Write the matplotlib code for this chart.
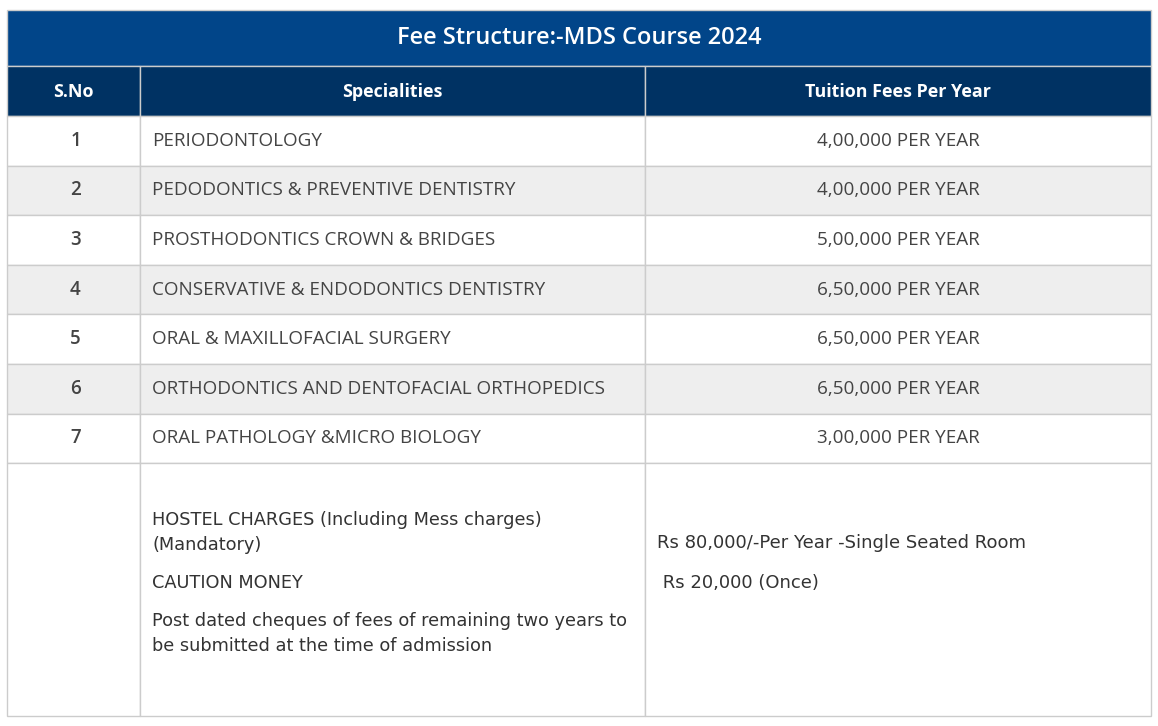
import matplotlib.pyplot as plt
from matplotlib.patches import Rectangle

title = "Fee Structure:-MDS Course 2024"
headers = ["S.No", "Specialities", "Tuition Fees Per Year"]
sno = ["1", "2", "3", "4", "5", "6", "7"]
specialities = [
    "PERIODONTOLOGY",
    "PEDODONTICS & PREVENTIVE DENTISTRY",
    "PROSTHODONTICS CROWN & BRIDGES",
    "CONSERVATIVE & ENDODONTICS DENTISTRY",
    "ORAL & MAXILLOFACIAL SURGERY",
    "ORTHODONTICS AND DENTOFACIAL ORTHOPEDICS",
    "ORAL PATHOLOGY &MICRO BIOLOGY",
]
fees = [
    "4,00,000 PER YEAR",
    "4,00,000 PER YEAR",
    "5,00,000 PER YEAR",
    "6,50,000 PER YEAR",
    "6,50,000 PER YEAR",
    "6,50,000 PER YEAR",
    "3,00,000 PER YEAR",
]
extra_left = [
    "HOSTEL CHARGES (Including Mess charges)\n(Mandatory)",
    "CAUTION MONEY",
    "Post dated cheques of fees of remaining two years to\nbe submitted at the time of admission",
]
extra_right = [
    "Rs 80,000/-Per Year -Single Seated Room",
    " Rs 20,000 (Once)",
]

W, H = 1158, 726
fig = plt.figure(figsize=(W / 100, H / 100), dpi=100)
ax = fig.add_axes([0, 0, 1, 1])
ax.set_xlim(0, W)
ax.set_ylim(H, 0)
ax.axis("off")

x0, x1, x2, x3 = 7, 140, 645, 1151
y_title, y_head, y_rows = 10, 66, 116
row_h = 49.6
grid = "#cccccc"
txt = "#444444"

# title bar
ax.add_patch(Rectangle((x0, y_title), x3 - x0, y_head - y_title, fc="#014589", ec=grid, lw=1))
ax.text((x0 + x3) / 2, (y_title + y_head) / 2, title, ha="center", va="center",
        color="white", fontsize=17, fontfamily="Open Sans", fontweight="semibold")

# header
cols = [(x0, x1), (x1, x2), (x2, x3)]
for (a, b), h in zip(cols, headers):
    ax.add_patch(Rectangle((a, y_head), b - a, y_rows - y_head, fc="#003263", ec=grid, lw=1))
    ax.text((a + b) / 2, (y_head + y_rows) / 2 + 1, h, ha="center", va="center",
            color="white", fontsize=12.9, fontfamily="Open Sans", fontweight="bold")

# body rows
for i, (n, s, f) in enumerate(zip(sno, specialities, fees)):
    top = y_rows + i * row_h
    bg = "#eeeeee" if i % 2 else "white"
    for a, b in cols:
        ax.add_patch(Rectangle((a, top), b - a, row_h, fc=bg, ec=grid, lw=1))
    yc = top + row_h / 2
    ax.text((x0 + x1) / 2 + 2, yc, n, ha="center", va="center", color=txt,
            fontsize=13.5, fontfamily="Open Sans", fontweight="semibold")
    ax.text(x1 + 12, yc, s, ha="left", va="center", color=txt,
            fontsize=13.6, fontfamily="Open Sans")
    ax.text((x2 + x3) / 2, yc, f, ha="center", va="center", color=txt,
            fontsize=13.6, fontfamily="Open Sans")

# bottom notes cell
top = y_rows + len(sno) * row_h
for a, b in cols:
    ax.add_patch(Rectangle((a, top), b - a, 716 - top, fc="white", ec=grid, lw=1))

line_gap = 25
left_y = [520, 583, 621]
for yy, t in zip(left_y, extra_left):
    for k, line in enumerate(t.split("\n")):
        ax.text(x1 + 12, yy + k * line_gap, line, ha="left", va="center",
                color="#333333", fontsize=12.8, fontfamily="DejaVu Sans")

right_y = [543, 583]
for yy, t in zip(right_y, extra_right):
    ax.text(x2 + 12, yy, t, ha="left", va="center", color="#333333",
            fontsize=13, fontfamily="DejaVu Sans")

fig.savefig("out.png", dpi=100)
